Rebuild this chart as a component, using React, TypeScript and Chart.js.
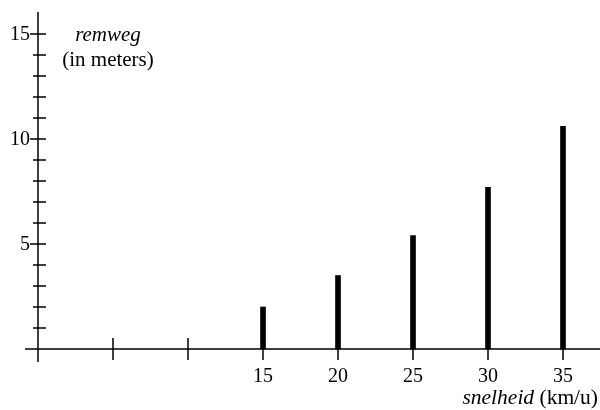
import React, { useEffect, useRef } from "react";
import { Chart, registerables } from "chart.js";

Chart.register(...registerables);

const speeds = [15, 20, 25, 30, 35];
const distances = [2.0, 3.5, 5.4, 7.7, 10.6];
const xTickValues = [5, 10, 15, 20, 25, 30, 35];
const xTickLabels = ["", "", "15", "20", "25", "30", "35"];
const yTickValues = [1, 2, 3, 4, 5, 6, 7, 8, 9, 10, 11, 12, 13, 14, 15];
const yLabeled = [5, 10, 15];
const yTickLabels = ["5", "10", "15"];
const yTitle = ["remweg", "(in meters)"];
const xTitleItalic = "snelheid";
const xTitleRest = " (km/u)";

const FONT = "'Liberation Serif', 'Times New Roman', serif";

const axesPlugin = {
  id: "customAxes",
  beforeDatasetsDraw(chart: any) {
    const { ctx, chartArea, scales } = chart;
    const xs = scales.x;
    const ys = scales.y;
    const x0 = xs.getPixelForValue(0);
    const y0 = ys.getPixelForValue(0);
    ctx.save();
    ctx.strokeStyle = "#000";
    ctx.lineWidth = 1.5;
    ctx.beginPath();
    ctx.moveTo(chartArea.left, y0);
    ctx.lineTo(chartArea.right, y0);
    ctx.moveTo(x0, chartArea.top);
    ctx.lineTo(x0, chartArea.bottom);
    // x ticks
    xTickValues.forEach((v) => {
      const px = xs.getPixelForValue(v);
      ctx.moveTo(px, y0 - 11);
      ctx.lineTo(px, y0 + 11);
    });
    // y ticks
    yTickValues.forEach((v) => {
      const py = ys.getPixelForValue(v);
      const major = yLabeled.includes(v);
      ctx.moveTo(x0 - (major ? 8 : 5), py);
      ctx.lineTo(x0 + 8, py);
    });
    ctx.stroke();

    ctx.fillStyle = "#000";
    ctx.font = `20px ${FONT}`;
    ctx.textAlign = "center";
    ctx.textBaseline = "alphabetic";
    xTickValues.forEach((v, i) => {
      if (!xTickLabels[i]) return;
      ctx.fillText(xTickLabels[i], xs.getPixelForValue(v), 382);
    });
    ctx.textAlign = "right";
    ctx.textBaseline = "middle";
    yLabeled.forEach((v, i) => {
      ctx.fillText(yTickLabels[i], x0 - 8, ys.getPixelForValue(v) + 0.5);
    });

    // titles
    ctx.textBaseline = "alphabetic";
    ctx.textAlign = "center";
    ctx.font = `italic 21px ${FONT}`;
    ctx.fillText(yTitle[0], 108, 41);
    ctx.font = `21px ${FONT}`;
    ctx.fillText(yTitle[1], 108, 66);

    ctx.textAlign = "left";
    ctx.font = `21.5px ${FONT}`;
    const restW = ctx.measureText(xTitleRest).width;
    ctx.font = `italic 21.5px ${FONT}`;
    const itW = ctx.measureText(xTitleItalic).width;
    const right = 598;
    const start = right - restW - itW;
    ctx.fillText(xTitleItalic, start, 404);
    ctx.font = `21.5px ${FONT}`;
    ctx.fillText(xTitleRest, start + itW, 404);
    ctx.restore();
  },
};

export default function App() {
  const ref = useRef<HTMLCanvasElement>(null);
  useEffect(() => {
    if (!ref.current) return;
    const chart = new Chart(ref.current, {
      type: "bar",
      data: {
        datasets: [
          {
            data: speeds.map((s, i) => ({ x: s, y: distances[i] })),
            backgroundColor: "#000",
            borderWidth: 0,
            barThickness: 5,
          },
        ],
      },
      options: {
        responsive: false,
        animation: false,
        events: [],
        layout: { padding: { left: 25, right: 0, top: 12, bottom: 48 } },
        plugins: { legend: { display: false }, tooltip: { enabled: false } },
        scales: {
          x: {
            type: "linear",
            display: false,
            min: -13 / 15,
            max: 562 / 15,
            offset: false,
          },
          y: {
            type: "linear",
            display: false,
            min: -13 / 21,
            max: 337 / 21,
          },
        },
      },
      plugins: [axesPlugin],
    });
    return () => chart.destroy();
  }, []);
  return (
    <div style={{ position: "fixed", left: 0, top: 0, width: 600, height: 410, background: "#fff" }}>
      <canvas ref={ref} width={600} height={410} />
    </div>
  );
}
